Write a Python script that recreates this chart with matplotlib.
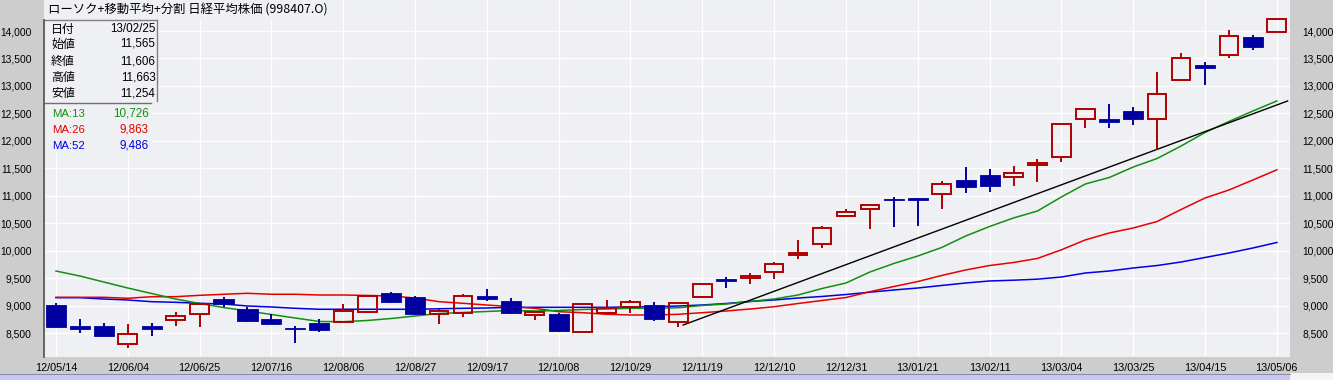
import matplotlib
matplotlib.use("Agg")
import matplotlib.pyplot as plt
from matplotlib.patches import Rectangle
from matplotlib.lines import Line2D
import numpy as np

plt.rcParams['font.family'] = ['Liberation Sans', 'Noto Sans CJK JP', 'DejaVu Sans']

# ---------------- data ----------------
tick_labels = ["12/05/14", "12/06/04", "12/06/25", "12/07/16", "12/08/06", "12/08/27",
               "12/09/17", "12/10/08", "12/10/29", "12/11/19", "12/12/10", "12/12/31",
               "13/01/21", "13/02/11", "13/03/04", "13/03/25", "13/04/15", "13/05/06"]

opens = [9016, 8634, 8634, 8301, 8634, 8738, 8847, 9125, 8943, 8761, 8597, 8694, 8702,
         8883, 9229, 9156, 8852, 8865, 9180, 9089, 8828, 8852, 8530, 8876, 8974, 9016,
         8712, 9156, 9489, 9502, 9611, 9920, 10120, 10629, 10757, 10950, 10962, 11030,
         11290, 11381, 11339, 11565, 11714, 12394, 12399, 12545, 12394, 13103, 13382,
         13558, 13885, 13976]
highs = [9047, 8756, 8683, 8670, 8683, 8883, 9058, 9156, 8985, 8847, 8634, 8756, 9034,
         9198, 9247, 9180, 8938, 9216, 9307, 9138, 8912, 8876, 9034, 9107, 9100, 9065,
         9047, 9400, 9520, 9592, 9793, 10198, 10453, 10762, 10853, 10975, 10962, 11271,
         11526, 11495, 11544, 11663, 12308, 12576, 12672, 12623, 13260, 13605, 13436,
         14018, 13927, 14213]
lows = [8603, 8512, 8440, 8239, 8458, 8640, 8621, 8985, 8712, 8665, 8330, 8525, 8702,
        8883, 9058, 8840, 8665, 8792, 9094, 8852, 8743, 8519, 8501, 8876, 8865, 8730,
        8621, 9150, 9320, 9392, 9494, 9847, 10047, 10629, 10404, 10440, 10453, 10762,
        11059, 11077, 11186, 11254, 11623, 12241, 12241, 12290, 11835, 13103, 13018,
        13514, 13654, 13976]
closes = [8621, 8585, 8458, 8483, 8585, 8810, 9029, 9034, 8730, 8676, 8585, 8567, 8901,
          9180, 9076, 8858, 8901, 9180, 9120, 8876, 8883, 8543, 9029, 8956, 9065, 8761,
          9047, 9392, 9453, 9549, 9762, 9956, 10411, 10702, 10829, 10930, 10926, 11211,
          11168, 11186, 11411, 11606, 12308, 12576, 12350, 12405, 12849, 13503, 13332,
          13909, 13714, 14213]

ma13 = [9634, 9543, 9434, 9325, 9225, 9125, 9043, 8970, 8907, 8843, 8779, 8716, 8712,
        8734, 8770, 8816, 8861, 8880, 8898, 8916, 8907, 8916, 8934, 8943, 8956, 8956,
        8967, 9007, 9034, 9080, 9125, 9198, 9316, 9416, 9616, 9771, 9907, 10062, 10271,
        10444, 10599, 10726, 10981, 11217, 11335, 11526, 11681, 11908, 12154, 12354,
        12545, 12727]
ma26 = [9156, 9156, 9156, 9138, 9167, 9167, 9192, 9211, 9229, 9211, 9211, 9198, 9198,
        9189, 9180, 9143, 9076, 9047, 9016, 8985, 8956, 8894, 8876, 8847, 8834, 8834,
        8847, 8876, 8907, 8943, 8985, 9043, 9098, 9152, 9258, 9352, 9443, 9553, 9653,
        9734, 9789, 9863, 10020, 10200, 10326, 10417, 10535, 10753, 10962, 11108,
        11290, 11475]
ma52 = [9149, 9149, 9125, 9107, 9076, 9065, 9047, 9034, 8998, 8980, 8956, 8938, 8938,
        8938, 8938, 8938, 8947, 8956, 8961, 8974, 8974, 8974, 8974, 8974, 8981, 8985,
        8998, 9016, 9043, 9080, 9107, 9143, 9171, 9207, 9249, 9289, 9325, 9371, 9416,
        9453, 9467, 9486, 9525, 9598, 9634, 9689, 9734, 9798, 9880, 9962, 10053, 10153]

trend_x = [26.2, 51.45]
trend_y = [8652, 12727]

info_labels = ["日付", "始値", "終値", "高値", "安値"]
info_values = ["13/02/25", "11,565", "11,606", "11,663", "11,254"]
ma_names = ["MA:13", "MA:26", "MA:52"]
ma_values = ["10,726", "9,863", "9,486"]
title = "ローソク+移動平均+分割 日経平均株価 (998407.O)"

# ---------------- styles ----------------
C_UP = '#b00000'
C_DN = '#0000a0'
C_G = '#109010'
C_R = '#e80000'
C_B = '#0000e8'
BG_OUT = '#cdcdcd'
BG_IN = '#eff0f3'

W, H = 1333, 380
fig = plt.figure(figsize=(W / 100, H / 100), dpi=100, facecolor=BG_OUT)


def fx(px):
    return px / W


def fy(py):
    return 1 - py / H


ax = fig.add_axes([fx(44), fy(357), fx(1290) - fx(44), fy(0) - fy(357)])
ax.set_facecolor(BG_IN)
x = np.arange(len(opens))
ax.set_xlim(-0.5, 51.55)
ax.set_ylim(8070, 14564)
yticks = list(range(8500, 14001, 500))
ax.set_yticks(yticks)
ax.set_yticklabels([f"{v:,}" for v in yticks])
ax.set_xticks(x[::3])
ax.set_xticklabels(tick_labels)
ax.grid(True, color='white', lw=1.0)
ax.set_axisbelow(True)
ax.tick_params(axis='y', length=0, pad=9, labelleft=True, labelright=True, labelsize=7.4)
ax.tick_params(axis='x', length=0, pad=4, labelsize=7.8)
for s in ax.spines.values():
    s.set_visible(False)

# moving averages and trend line
ax.plot(x, ma52, color=C_B, lw=1.1, zorder=2)
ax.plot(x, ma26, color=C_R, lw=1.1, zorder=2)
ax.plot(x, ma13, color=C_G, lw=1.1, zorder=2)
ax.plot(trend_x, trend_y, color='black', lw=1.0, zorder=2)

# candles
for i in x:
    o, h, l, c = opens[i], highs[i], lows[i], closes[i]
    lo_b, hi_b = min(o, c), max(o, c)
    if c >= o:
        if h > hi_b:
            ax.vlines(i, hi_b, h, color=C_UP, lw=1.4, zorder=4)
        if l < lo_b:
            ax.vlines(i, l, lo_b, color=C_UP, lw=1.4, zorder=4)
        ax.add_patch(Rectangle((i - 0.39, lo_b), 0.78, hi_b - lo_b, fill=False,
                               edgecolor=C_UP, lw=1.4, zorder=4))
    else:
        ax.vlines(i, l, h, color=C_DN, lw=1.4, zorder=4)
        ax.add_patch(Rectangle((i - 0.42, lo_b), 0.84, max(hi_b - lo_b, 20),
                               facecolor=C_DN, edgecolor=C_DN, lw=0.6, zorder=4))

# ---------------- overlays in pixel coordinates ----------------
def frect(x0, y0, x1, y1, **kw):
    fig.add_artist(Rectangle((fx(x0), fy(y1)), fx(x1) - fx(x0), fy(y0) - fy(y1),
                             transform=fig.transFigure, **kw))


def fline(x0, y0, x1, y1, **kw):
    fig.add_artist(Line2D([fx(x0), fx(x1)], [fy(y0), fy(y1)], transform=fig.transFigure, **kw))


# bottom lavender band
frect(0, 373, 1290, 380, facecolor='#c8c8f2', edgecolor='none', zorder=10)
fline(0, 373.5, 1290, 373.5, color='#8888a0', lw=0.7, zorder=11)
frect(1290, 373, 1333, 380, facecolor='#f4f4f4', edgecolor='none', zorder=10)

# title box
frect(44, 0, 327, 20, facecolor=BG_IN, edgecolor='none', zorder=10)
fig.text(fx(48), fy(10), title, ha='left', va='center', fontsize=8.9,
         family=['Noto Sans CJK JP', 'DejaVu Sans'], zorder=12)

# info box
frect(44, 20, 157, 101, facecolor=BG_IN, edgecolor='none', zorder=10)
frect(44, 101, 152, 153, facecolor=BG_IN, edgecolor='none', zorder=10)
fline(44, 20, 157, 20, color='#808080', lw=1.0, zorder=11)
fline(157, 20, 157, 101, color='#808080', lw=1.0, zorder=11)
fline(44, 103, 151, 103, color='#707070', lw=1.0, zorder=11)
fline(44, 20, 44, 357, color='#5a5a5a', lw=1.3, zorder=11)

info_y = [29, 44, 61, 78, 94]
for lab, val, yy in zip(info_labels, info_values, info_y):
    fig.text(fx(51), fy(yy), lab, ha='left', va='center', fontsize=8.6,
             family=['Noto Sans CJK JP', 'DejaVu Sans'], zorder=12)
    fig.text(fx(155.5), fy(yy), val, ha='right', va='center', fontsize=8.4, zorder=12)

ma_y = [114, 130, 146]
for name, val, yy, col in zip(ma_names, ma_values, ma_y, [C_G, C_R, C_B]):
    fig.text(fx(52), fy(yy), name, ha='left', va='center', fontsize=8.2, color=col, zorder=12)
    fig.text(fx(148.5), fy(yy), val, ha='right', va='center', fontsize=8.4, color=col, zorder=12)

fig.savefig("out.png", dpi=100, facecolor=BG_OUT)
